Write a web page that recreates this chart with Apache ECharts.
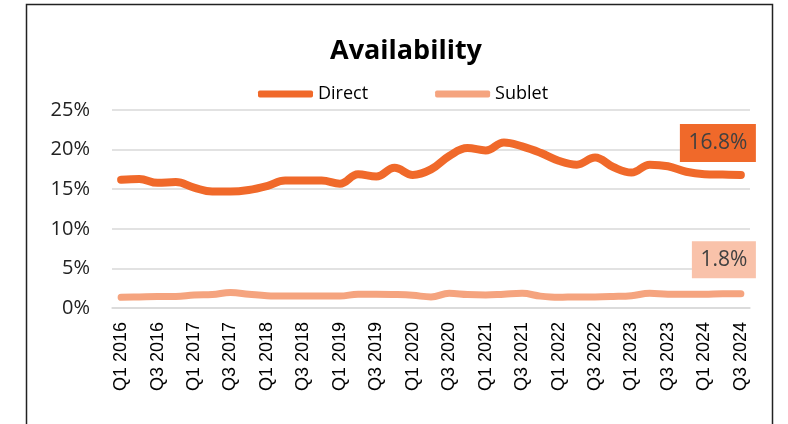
<!DOCTYPE html>
<html>
<head>
<meta charset="utf-8">
<title>Availability</title>
<script src="https://cdn.jsdelivr.net/npm/echarts@6/dist/echarts.min.js"></script>
<style>
  html, body { margin: 0; padding: 0; background: #fff; }
  #main { width: 788px; height: 424px; }
</style>
</head>
<body>
<div id="main"></div>
<script>
// quarters Q1 2016 .. Q3 2024
const quarters = [
  'Q1 2016', 'Q2 2016', 'Q3 2016', 'Q4 2016',
  'Q1 2017', 'Q2 2017', 'Q3 2017', 'Q4 2017',
  'Q1 2018', 'Q2 2018', 'Q3 2018', 'Q4 2018',
  'Q1 2019', 'Q2 2019', 'Q3 2019', 'Q4 2019',
  'Q1 2020', 'Q2 2020', 'Q3 2020', 'Q4 2020',
  'Q1 2021', 'Q2 2021', 'Q3 2021', 'Q4 2021',
  'Q1 2022', 'Q2 2022', 'Q3 2022', 'Q4 2022',
  'Q1 2023', 'Q2 2023', 'Q3 2023', 'Q4 2023',
  'Q1 2024', 'Q2 2024', 'Q3 2024'
];

// availability, %
const direct = [
  16.2, 16.3, 15.8, 15.9, 15.2, 14.7, 14.7, 14.9,
  15.4, 16.1, 16.1, 16.1, 15.7, 16.9, 16.6, 17.7,
  16.8, 17.5, 19.2, 20.2, 19.9, 20.9, 20.4, 19.6,
  18.6, 18.1, 19.0, 17.8, 17.1, 18.1, 17.9, 17.2,
  16.9, 16.85, 16.8
];
const sublet = [
  1.35, 1.4, 1.45, 1.45, 1.65, 1.7, 1.95, 1.75,
  1.55, 1.5, 1.5, 1.5, 1.5, 1.75, 1.75, 1.7,
  1.6, 1.4, 1.85, 1.7, 1.65, 1.75, 1.85, 1.5,
  1.35, 1.4, 1.4, 1.45, 1.55, 1.85, 1.75, 1.75,
  1.75, 1.8, 1.8
];

const yTicks = [0, 5, 10, 15, 20, 25];

const DIRECT = '#F0692A';
const SUBLET = '#F5A47F';
const last = quarters.length - 1;

let chart = echarts.init(document.getElementById('main'), null, { renderer: 'canvas' });

let option = {
  animation: false,
  title: {
    text: 'Availability',
    left: 401,
    textAlign: 'center',
    top: 33,
    textStyle: {
      fontFamily: 'Open Sans',
      fontWeight: 'bold',
      fontSize: 27,
      color: '#000'
    }
  },
  legend: {
    left: 253,
    top: 80,
    icon: 'roundRect',
    itemWidth: 55,
    itemHeight: 7,
    itemGap: 67,
    textStyle: {
      fontFamily: 'Open Sans',
      fontSize: 18,
      color: '#000'
    },
    data: ['Direct', 'Sublet']
  },
  grid: {
    left: 112,
    right: 38,
    top: 110,
    bottom: 116
  },
  xAxis: {
    type: 'category',
    data: quarters,
    boundaryGap: true,
    axisLine: { lineStyle: { color: '#D9D9D9', width: 1.5 } },
    axisTick: { show: false },
    axisLabel: {
      interval: 1,
      rotate: 90,
      margin: 14,
      fontFamily: 'Liberation Sans',
      fontSize: 18,
      color: '#000'
    }
  },
  yAxis: {
    type: 'value',
    min: yTicks[0],
    max: yTicks[yTicks.length - 1],
    interval: 5,
    axisLine: { show: false },
    axisTick: { show: false },
    splitLine: { lineStyle: { color: '#D9D9D9', width: 1.5 } },
    axisLabel: {
      formatter: '{value}%',
      margin: 22,
      fontFamily: 'Open Sans',
      fontSize: 20,
      color: '#222'
    }
  },
  graphic: [
    {
      type: 'rect',
      shape: { x: 26.5, y: 4.5, width: 746, height: 440 },
      style: { fill: 'none', stroke: '#222', lineWidth: 1.5 },
      z: 100
    }
  ],
  series: [
    {
      name: 'Direct',
      type: 'line',
      data: direct,
      smooth: 0.4,
      symbol: 'none',
      color: DIRECT,
      lineStyle: { width: 8, color: DIRECT, cap: 'round', join: 'round' },
      markPoint: {
        symbol: 'rect',
        symbolSize: [76, 38],
        symbolOffset: [-23, -32],
        itemStyle: { color: DIRECT },
        label: {
          show: true,
          position: 'inside',
          formatter: () => direct[last].toFixed(1) + '%',
          fontFamily: 'Open Sans',
          fontSize: 21,
          color: '#404040'
        },
        data: [{ coord: [last, direct[last]] }]
      }
    },
    {
      name: 'Sublet',
      type: 'line',
      data: sublet,
      smooth: 0.4,
      symbol: 'none',
      color: SUBLET,
      lineStyle: { width: 7, color: SUBLET, cap: 'round', join: 'round' },
      markPoint: {
        symbol: 'rect',
        symbolSize: [64, 37],
        symbolOffset: [-17, -34],
        itemStyle: { color: '#F9C2AA' },
        label: {
          show: true,
          position: 'inside',
          formatter: () => sublet[last].toFixed(1) + '%',
          fontFamily: 'Open Sans',
          fontSize: 21,
          color: '#404040'
        },
        data: [{ coord: [last, sublet[last]] }]
      }
    }
  ]
};

chart.setOption(option);
window.onresize = () => {
  chart.resize();
};
</script>
</body>
</html>
